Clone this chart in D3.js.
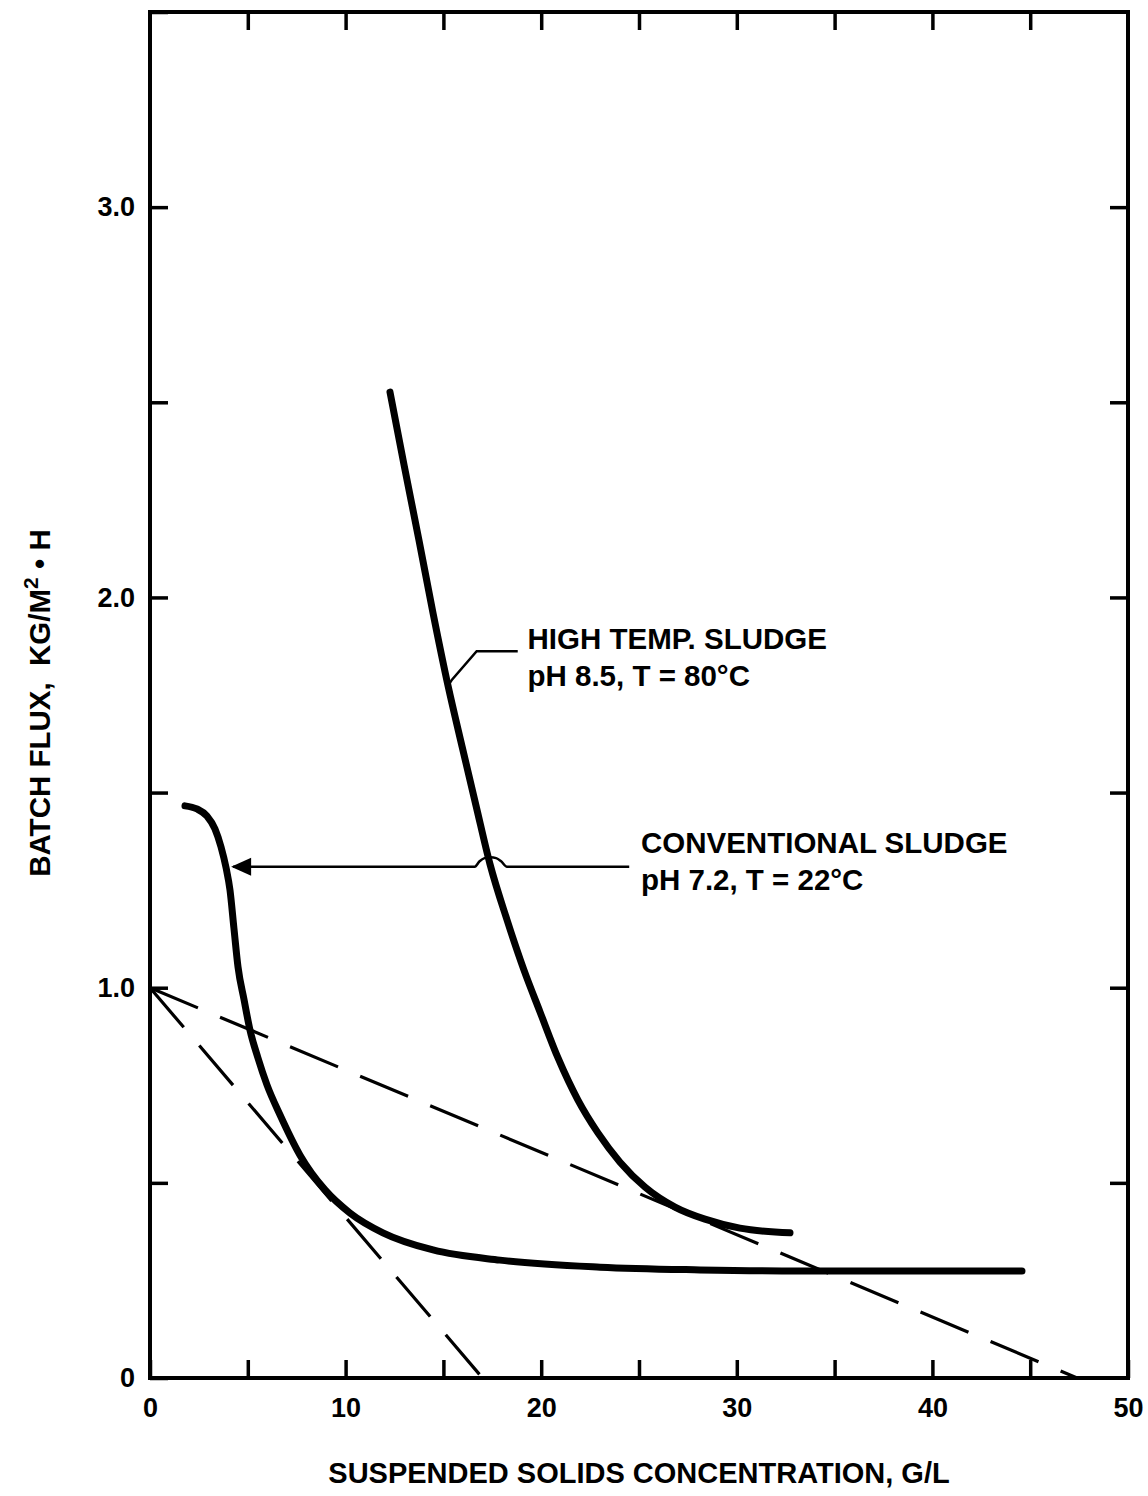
<!DOCTYPE html>
<html>
<head>
<meta charset="utf-8">
<script src="https://cdn.jsdelivr.net/npm/d3@7"></script>
<style>
  html, body { margin: 0; padding: 0; background: #fff; }
  svg text { font-family: "Liberation Sans", Arial, Helvetica, sans-serif; font-weight: bold; fill: #000; }
</style>
</head>
<body>
<svg id="chart" width="1148" height="1496"></svg>
<script>
// ---- Data ----
const xTicks = [0, 5, 10, 15, 20, 25, 30, 35, 40, 45, 50];
const xTickLabels = ["0", "", "10", "", "20", "", "30", "", "40", "", "50"];
const yTicks = [0, 0.5, 1.0, 1.5, 2.0, 2.5, 3.0, 3.5];
const yTickLabels = ["0", "", "1.0", "", "2.0", "", "3.0", ""];

// Conventional sludge (pH 7.2, T = 22°C)
const convX = [1.79, 2.40, 2.91, 3.32, 3.63, 3.89, 4.09, 4.29, 4.50, 4.81, 5.11, 5.52, 5.98, 6.65, 7.67, 8.95, 10.22, 11.91, 14.47, 17.89, 23.01, 28.12, 33.23, 44.58];
const convY = [1.466, 1.458, 1.440, 1.407, 1.361, 1.307, 1.250, 1.153, 1.053, 0.969, 0.892, 0.820, 0.751, 0.674, 0.571, 0.482, 0.423, 0.372, 0.328, 0.302, 0.284, 0.277, 0.274, 0.274];

// High temp. sludge (pH 8.5, T = 80°C)
const hiX = [12.27, 12.99, 13.75, 14.47, 15.24, 15.95, 16.67, 17.38, 18.25, 19.12, 19.94, 20.86, 21.88, 22.90, 24.03, 25.31, 26.84, 28.37, 30.16, 32.72];
const hiY = [2.526, 2.339, 2.147, 1.960, 1.773, 1.619, 1.466, 1.317, 1.174, 1.045, 0.938, 0.820, 0.712, 0.628, 0.553, 0.489, 0.438, 0.407, 0.384, 0.372];

// Dashed tangent lines from (0, 1.0)
const dash1X = [0, 47.4];
const dash1Y = [1.0, 0];
const dash2X = [0, 17.0];
const dash2Y = [1.0, 0];

// Annotation anchor points (data coordinates)
const arrowX = [4.25, 16.6, 16.85, 17.1, 17.4, 17.7, 17.95, 18.25, 24.5];
const arrowY = [1.31, 1.31, 1.324, 1.332, 1.334, 1.332, 1.324, 1.31, 1.31];
const leaderX = [15.25, 15.45, 16.7, 18.8];
const leaderY = [1.775, 1.79, 1.862, 1.862];

const labels = [
  { x: 19.3, y: 1.868, lines: ["HIGH TEMP. SLUDGE", "pH 8.5, T = 80°C"] },
  { x: 25.1, y: 1.345, lines: ["CONVENTIONAL SLUDGE", "pH 7.2, T = 22°C"] }
];

// ---- Layout ----
const svg = d3.select("#chart");
const x = d3.scaleLinear().domain([0, 50]).range([150, 1128]);
const y = d3.scaleLinear().domain([0, 3.5]).range([1378, 12]);

const FONT = 27;

// frame
svg.append("rect")
  .attr("x", x(0)).attr("y", y(3.5))
  .attr("width", x(50) - x(0)).attr("height", y(0) - y(3.5))
  .attr("fill", "none").attr("stroke", "#000").attr("stroke-width", 4);

function styleAxis(g) {
  g.select(".domain").remove();
  g.selectAll(".tick line").attr("stroke", "#000").attr("stroke-width", 3.5);
  g.selectAll(".tick text").attr("font-size", FONT).attr("fill", "#000")
    .style("font-family", "'Liberation Sans', Arial, sans-serif").style("font-weight", "bold");
}

// bottom axis with labels
svg.append("g").attr("transform", `translate(0,${y(0)})`)
  .call(d3.axisBottom(x).tickValues(xTicks).tickSize(-18).tickPadding(20)
    .tickFormat((d, i) => xTickLabels[i]))
  .call(styleAxis);
// top axis (ticks only)
svg.append("g").attr("transform", `translate(0,${y(3.5)})`)
  .call(d3.axisTop(x).tickValues(xTicks.slice(1, -1)).tickSize(-18).tickFormat(""))
  .call(styleAxis);
// left axis with labels
svg.append("g").attr("transform", `translate(${x(0)},0)`)
  .call(d3.axisLeft(y).tickValues(yTicks).tickSize(-18).tickPadding(15)
    .tickFormat((d, i) => yTickLabels[i]))
  .call(styleAxis);
// right axis (ticks only)
svg.append("g").attr("transform", `translate(${x(50)},0)`)
  .call(d3.axisRight(y).tickValues(yTicks.slice(1, -1)).tickSize(-18).tickFormat(""))
  .call(styleAxis);

// axis titles
svg.append("text")
  .attr("x", 639).attr("y", 1483)
  .attr("text-anchor", "middle").attr("font-size", 29)
  .text("SUSPENDED SOLIDS CONCENTRATION, G/L");

const yt = svg.append("text")
  .attr("transform", `translate(50,${703}) rotate(-90)`)
  .attr("text-anchor", "middle").attr("font-size", 29.5)
  .style("white-space", "pre");
yt.append("tspan").text("BATCH FLUX,  KG/M");
yt.append("tspan").attr("dy", -12).attr("font-size", 21).text("2");
yt.append("tspan").attr("dy", 12).text(" \u2022 H");

// dashed lines
const line = d3.line().x(d => x(d[0])).y(d => y(d[1]));
function pts(xs, ys) { return xs.map((v, i) => [v, ys[i]]); }

[[dash1X, dash1Y], [dash2X, dash2Y]].forEach(([xs, ys]) => {
  svg.append("path").datum(pts(xs, ys))
    .attr("d", line).attr("fill", "none").attr("stroke", "#000")
    .attr("stroke-width", 3.2).attr("stroke-dasharray", "52,24");
});

// curves
const curve = d3.line().x(d => x(d[0])).y(d => y(d[1])).curve(d3.curveMonotoneX);
[[convX, convY], [hiX, hiY]].forEach(([xs, ys]) => {
  svg.append("path").datum(pts(xs, ys))
    .attr("d", curve).attr("fill", "none").attr("stroke", "#000")
    .attr("stroke-width", 7).attr("stroke-linecap", "round").attr("stroke-linejoin", "round");
});

// arrow to conventional curve (with hump over the high-temp curve)
svg.append("path").datum(pts(arrowX, arrowY))
  .attr("d", d3.line().x(d => x(d[0])).y(d => y(d[1])).curve(d3.curveMonotoneX))
  .attr("fill", "none").attr("stroke", "#000").attr("stroke-width", 2.5);
const tipX = x(arrowX[0]) - 2, tipY = y(arrowY[0]);
svg.append("path")
  .attr("d", `M${tipX},${tipY} L${tipX + 20},${tipY - 9} L${tipX + 20},${tipY + 9} Z`)
  .attr("fill", "#000");

// leader to high-temp curve
svg.append("path").datum(pts(leaderX, leaderY))
  .attr("d", line).attr("fill", "none").attr("stroke", "#000").attr("stroke-width", 2.5);

// annotation text
labels.forEach(l => {
  l.lines.forEach((t, i) => {
    svg.append("text").attr("x", x(l.x)).attr("y", y(l.y) + i * 37)
      .attr("font-size", 29.5).text(t);
  });
});
</script>
</body>
</html>
